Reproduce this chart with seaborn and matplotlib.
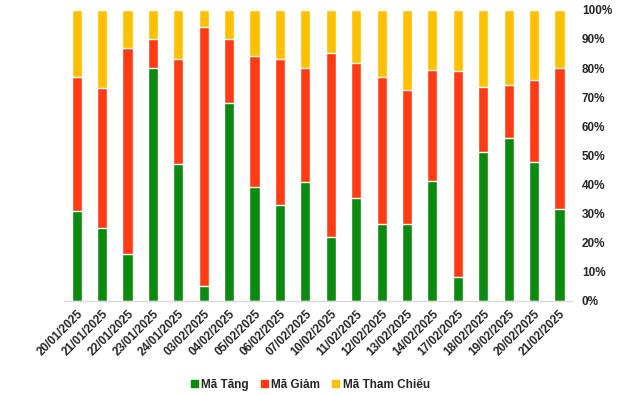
import numpy as np
import pandas as pd
import matplotlib
matplotlib.use("Agg")
import matplotlib.pyplot as plt
import seaborn as sns
from matplotlib.patches import Patch
from matplotlib.ticker import PercentFormatter

ngay = ["20/01/2025", "21/01/2025", "22/01/2025", "23/01/2025", "24/01/2025",
        "03/02/2025", "04/02/2025", "05/02/2025", "06/02/2025", "07/02/2025",
        "10/02/2025", "11/02/2025", "12/02/2025", "13/02/2025", "14/02/2025",
        "17/02/2025", "18/02/2025", "19/02/2025", "20/02/2025", "21/02/2025"]
# ty le (%) doc tu hinh
ma_tang = [30.9, 25.1, 16.2, 80.2, 47.2, 5.3, 68.0, 39.2, 33.0, 40.9,
           22.0, 35.4, 26.5, 26.5, 41.2, 8.2, 51.2, 56.1, 47.8, 31.6]
ma_giam = [46.1, 48.1, 70.7, 9.8, 36.0, 88.9, 22.0, 45.0, 50.2, 39.2,
           63.2, 46.4, 50.5, 46.0, 38.2, 70.8, 22.3, 18.1, 28.1, 48.5]
ma_tham_chieu = [23.0, 26.8, 13.1, 10.0, 16.8, 5.8, 10.0, 15.8, 16.8, 19.9,
                 14.8, 18.2, 23.0, 27.5, 20.6, 21.0, 26.5, 25.8, 24.1, 19.9]

df = pd.DataFrame({"ngay": ngay, "tang": ma_tang, "giam": ma_giam, "tc": ma_tham_chieu})
df["c_giam"] = df["tang"] + df["giam"]
df["c_tc"] = df["c_giam"] + df["tc"]

xanh = "#0A8A0F"
do = "#FF3B13"
vang = "#FFC000"

sns.set_style("white")
plt.rcParams["font.family"] = ["Liberation Sans", "DejaVu Sans"]

fig = plt.figure(figsize=(6.4, 3.95), dpi=100)
ax = fig.add_axes([0.1, 0.238, 0.794, 0.737])

# chong cac cot len nhau (tong tich luy ve truoc)
sns.barplot(data=df, x="ngay", y="c_tc", color=vang, width=0.4, saturation=1, ax=ax)
sns.barplot(data=df, x="ngay", y="c_giam", color=do, width=0.4, saturation=1, ax=ax)
sns.barplot(data=df, x="ngay", y="tang", color=xanh, width=0.4, saturation=1, ax=ax)

ax.set_ylim(0, 100)
ax.set_xlim(-0.5, len(ngay) - 0.5)
ax.yaxis.tick_right()
ax.set_yticks(np.arange(0, 101, 10))
ax.yaxis.set_major_formatter(PercentFormatter(decimals=0))
ax.set_xlabel("")
ax.set_ylabel("")
ax.tick_params(axis="both", length=0, labelsize=8.5)
ax.tick_params(axis="y", pad=7)
for lab in ax.get_yticklabels():
    lab.set_fontweight("bold")
ax.set_xticks(range(len(ngay)))
ax.set_xticklabels(ngay, rotation=45, ha="right", rotation_mode="anchor",
                   fontweight="bold", fontsize=8.5)
ax.tick_params(axis="x", pad=5)

for s in ["left", "right", "top"]:
    ax.spines[s].set_visible(False)
ax.spines["bottom"].set_color("#D9D9D9")
ax.spines["bottom"].set_linewidth(1)

handles = [Patch(color=xanh, label="Mã Tăng"),
           Patch(color=do, label="Mã Giảm"),
           Patch(color=vang, label="Mã Tham Chiếu")]
fig.legend(handles=handles, loc="center", bbox_to_anchor=(0.485, 0.026), ncol=3,
           frameon=False, handlelength=0.6, handleheight=0.6, handletextpad=0.3,
           columnspacing=1.0, prop={"weight": "bold", "size": 8.5})

fig.savefig("out.png", dpi=100)
